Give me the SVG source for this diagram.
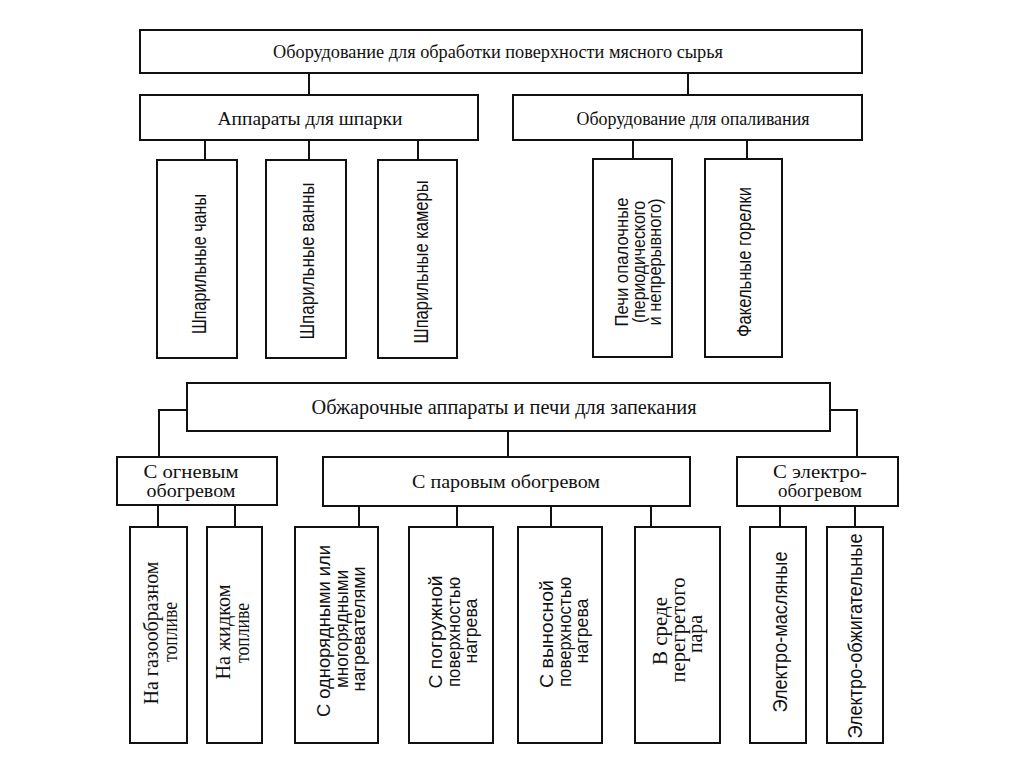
<svg xmlns="http://www.w3.org/2000/svg" width="1024" height="767" viewBox="0 0 1024 767">
<style>
rect.b{fill:#fff;stroke:#111;stroke-width:2}
.c line,.c polyline{stroke:#111;stroke-width:2;fill:none}
text{fill:#111}
.s{font-family:"Liberation Serif","Times New Roman",serif;font-size:19px}
.a{font-family:"Liberation Sans",Arial,sans-serif;font-size:20px}
.m{text-anchor:middle}
</style>
<rect width="1024" height="767" fill="#fff"/>
<g class="c" id="connectors">
<line x1="309" y1="73" x2="309" y2="95"/>
<line x1="688" y1="73" x2="688" y2="95"/>
<line x1="205" y1="140" x2="205" y2="160"/>
<line x1="309" y1="140" x2="309" y2="160"/>
<line x1="418" y1="140" x2="418" y2="160"/>
<line x1="633" y1="140" x2="633" y2="159"/>
<line x1="747" y1="140" x2="747" y2="159"/>
<polyline points="187,410 159,410 159,457"/>
<polyline points="830,410 857,410 857,457"/>
<line x1="508" y1="431" x2="508" y2="457"/>
<line x1="158" y1="505" x2="158" y2="527"/>
<line x1="235" y1="505" x2="235" y2="527"/>
<line x1="359" y1="506" x2="359" y2="527"/>
<line x1="457" y1="506" x2="457" y2="527"/>
<line x1="551" y1="506" x2="551" y2="527"/>
<line x1="651" y1="506" x2="651" y2="527"/>
<line x1="780" y1="506" x2="780" y2="527"/>
<line x1="855" y1="506" x2="855" y2="527"/>
</g>
<g id="n_top"><rect class="b" x="140" y="30" width="722" height="43"/>
<text class="s m" x="498" y="58" textLength="450" lengthAdjust="spacingAndGlyphs">Оборудование для обработки поверхности мясного сырья</text></g>
<g id="n_scald"><rect class="b" x="140" y="95" width="338" height="45"/>
<text class="s m" x="310" y="125" textLength="185" lengthAdjust="spacingAndGlyphs">Аппараты для шпарки</text></g>
<g id="n_singe"><rect class="b" x="513" y="95" width="349" height="45"/>
<text class="s m" x="693" y="125" textLength="233" lengthAdjust="spacingAndGlyphs">Оборудование для опаливания</text></g>
<g id="n_vats"><rect class="b" x="157" y="160" width="80" height="198"/>
<text class="a m" transform="translate(206,264) rotate(-90)" textLength="140" lengthAdjust="spacingAndGlyphs">Шпарильные чаны</text></g>
<g id="n_baths"><rect class="b" x="266" y="160" width="80" height="198"/>
<text class="a m" transform="translate(314,261) rotate(-90)" textLength="157" lengthAdjust="spacingAndGlyphs">Шпарильные ванны</text></g>
<g id="n_chambers"><rect class="b" x="378" y="160" width="79" height="198"/>
<text class="a m" transform="translate(428,262) rotate(-90)" textLength="163" lengthAdjust="spacingAndGlyphs">Шпарильные камеры</text></g>
<g id="n_ovens"><rect class="b" x="593" y="159" width="79" height="198"/>
<text class="a m" style="font-size:18px" transform="translate(628,262) rotate(-90)" textLength="129" lengthAdjust="spacingAndGlyphs">Печи опалочные</text>
<text class="a m" style="font-size:18px" transform="translate(645,262) rotate(-90)" textLength="122" lengthAdjust="spacingAndGlyphs">(периодического</text>
<text class="a m" style="font-size:18px" transform="translate(661,262) rotate(-90)" textLength="127" lengthAdjust="spacingAndGlyphs">и непрерывного)</text></g>
<g id="n_burners"><rect class="b" x="705" y="159" width="77" height="198"/>
<text class="a m" transform="translate(751,262) rotate(-90)" textLength="150" lengthAdjust="spacingAndGlyphs">Факельные горелки</text></g>
<g id="n_roast"><rect class="b" x="187" y="383" width="643" height="48"/>
<text class="s m" style="font-size:20px" x="504" y="414" textLength="385" lengthAdjust="spacingAndGlyphs">Обжарочные аппараты и печи для запекания</text></g>
<g id="n_fire"><rect class="b" x="117" y="457" width="160" height="48"/>
<text class="s m" style="font-size:18px" x="191" y="478" textLength="95" lengthAdjust="spacingAndGlyphs">С огневым</text>
<text class="s m" style="font-size:18px" x="191" y="497" textLength="89" lengthAdjust="spacingAndGlyphs">обогревом</text></g>
<g id="n_steam"><rect class="b" x="323" y="457" width="367" height="49"/>
<text class="s m" x="506" y="488" textLength="188" lengthAdjust="spacingAndGlyphs">С паровым обогревом</text></g>
<g id="n_elec"><rect class="b" x="737" y="457" width="161" height="49"/>
<text class="s m" style="font-size:18px" x="820" y="478" textLength="94" lengthAdjust="spacingAndGlyphs">С электро-</text>
<text class="s m" style="font-size:18px" x="820" y="497" textLength="84" lengthAdjust="spacingAndGlyphs">обогревом</text></g>
<g id="n_gas"><rect class="b" x="130" y="527" width="57" height="216"/>
<text class="s m" style="font-size:20px" transform="translate(158,633) rotate(-90)" textLength="143" lengthAdjust="spacingAndGlyphs">На газообразном</text>
<text class="s m" style="font-size:20px" transform="translate(177,632) rotate(-90)" textLength="60" lengthAdjust="spacingAndGlyphs">топливе</text></g>
<g id="n_liquid"><rect class="b" x="207" y="527" width="55" height="216"/>
<text class="s m" style="font-size:20px" transform="translate(230,632) rotate(-90)" textLength="95" lengthAdjust="spacingAndGlyphs">На жидком</text>
<text class="s m" style="font-size:20px" transform="translate(249,633) rotate(-90)" textLength="60" lengthAdjust="spacingAndGlyphs">топливе</text></g>
<g id="n_rows"><rect class="b" x="295" y="527" width="83" height="216"/>
<text class="a m" style="font-size:18px" transform="translate(330,631) rotate(-90)" textLength="172" lengthAdjust="spacingAndGlyphs">С однорядными или</text>
<text class="a m" style="font-size:18px" transform="translate(348,629) rotate(-90)" textLength="118" lengthAdjust="spacingAndGlyphs">многорядными</text>
<text class="a m" style="font-size:18px" transform="translate(365,629) rotate(-90)" textLength="125" lengthAdjust="spacingAndGlyphs">нагревателями</text></g>
<g id="n_immersed"><rect class="b" x="409" y="527" width="84" height="216"/>
<text class="a m" style="font-size:18px" transform="translate(442,632) rotate(-90)" textLength="113" lengthAdjust="spacingAndGlyphs">С погружной</text>
<text class="a m" style="font-size:18px" transform="translate(460,632) rotate(-90)" textLength="110" lengthAdjust="spacingAndGlyphs">поверхностью</text>
<text class="a m" style="font-size:18px" transform="translate(477,631) rotate(-90)" textLength="65" lengthAdjust="spacingAndGlyphs">нагрева</text></g>
<g id="n_remote"><rect class="b" x="518" y="527" width="84" height="216"/>
<text class="a m" style="font-size:18px" transform="translate(553,634) rotate(-90)" textLength="108" lengthAdjust="spacingAndGlyphs">С выносной</text>
<text class="a m" style="font-size:18px" transform="translate(571,632) rotate(-90)" textLength="110" lengthAdjust="spacingAndGlyphs">поверхностью</text>
<text class="a m" style="font-size:18px" transform="translate(588,631) rotate(-90)" textLength="65" lengthAdjust="spacingAndGlyphs">нагрева</text></g>
<g id="n_superheated"><rect class="b" x="635" y="527" width="85" height="216"/>
<text class="s m" style="font-size:20px" transform="translate(667,631) rotate(-90)" textLength="68" lengthAdjust="spacingAndGlyphs">В среде</text>
<text class="s m" style="font-size:20px" transform="translate(685,630) rotate(-90)" textLength="105" lengthAdjust="spacingAndGlyphs">перегретого</text>
<text class="s m" style="font-size:20px" transform="translate(702,634) rotate(-90)" textLength="38" lengthAdjust="spacingAndGlyphs">пара</text></g>
<g id="n_oil"><rect class="b" x="750" y="527" width="56" height="216"/>
<text class="a m" transform="translate(787,632) rotate(-90)" textLength="161" lengthAdjust="spacingAndGlyphs">Электро-масляные</text></g>
<g id="n_burn"><rect class="b" x="827" y="527" width="56" height="216"/>
<text class="a m" transform="translate(862,636) rotate(-90)" textLength="205" lengthAdjust="spacingAndGlyphs">Электро-обжигательные</text></g>
</svg>
